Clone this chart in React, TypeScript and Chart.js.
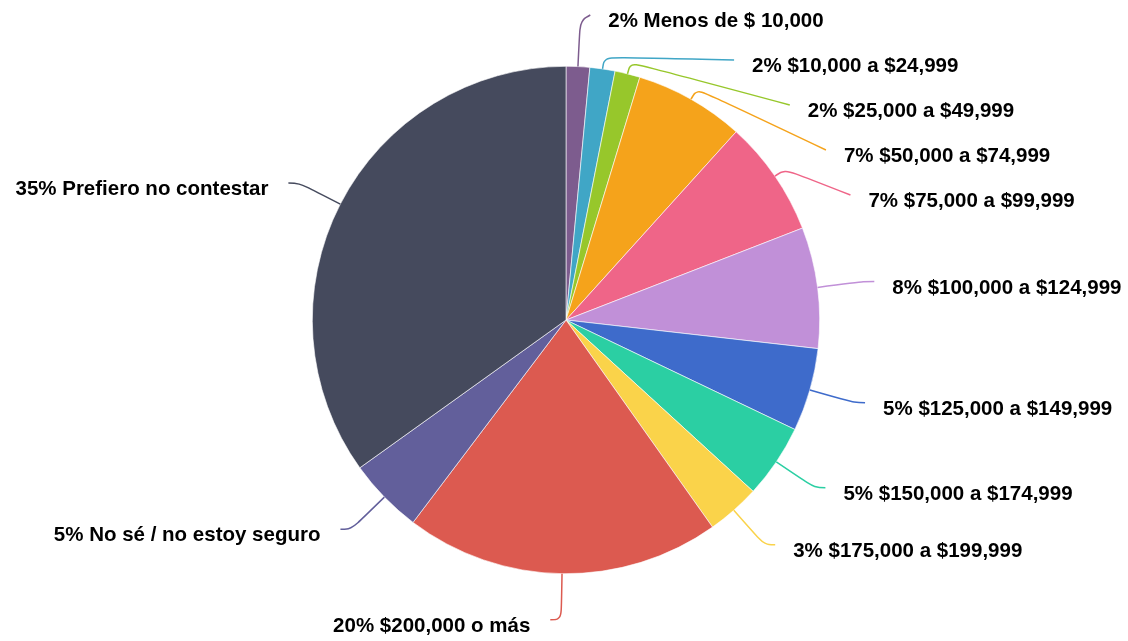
import React, { useEffect, useRef } from "react";
import { Chart, registerables } from "chart.js";

Chart.register(...registerables);

const categories = [
  "Menos de $ 10,000",
  "$10,000 a $24,999",
  "$25,000 a $49,999",
  "$50,000 a $74,999",
  "$75,000 a $99,999",
  "$100,000 a $124,999",
  "$125,000 a $149,999",
  "$150,000 a $174,999",
  "$175,000 a $199,999",
  "$200,000 o más",
  "No sé / no estoy seguro",
  "Prefiero no contestar",
];

const values = [1.5, 1.6, 1.6, 7.0, 7.4, 7.7, 5.3, 4.7, 3.4, 20.1, 4.8, 34.9];

const colors = [
  "#7d5c8e",
  "#40a6c6",
  "#97c72b",
  "#f5a31b",
  "#ef6588",
  "#c190d8",
  "#3e6bcb",
  "#2bcfa3",
  "#fad34a",
  "#dc5a50",
  "#625f9b",
  "#454a5d",
];

const total = values.reduce((a, b) => a + b, 0);
const labelTexts = values.map(
  (v, i) => `${Math.round((v * 100) / total + 1e-9)}% ${categories[i]}`
);

type Item = {
  i: number;
  dx: number;
  dy: number;
  side: number;
  ny: number;
  y: number;
};

function spread(list: Item[], gap: number, minY: number, maxY: number) {
  list.sort((a, b) => a.ny - b.ny);
  const clusters: { items: Item[]; top: number }[] = [];
  const fix = (c: { items: Item[]; top: number }) => {
    let s = 0;
    c.items.forEach((it, k) => (s += it.ny - k * gap));
    let top = s / c.items.length;
    top = Math.max(minY, Math.min(maxY - (c.items.length - 1) * gap, top));
    c.top = top;
  };
  for (const it of list) {
    const c = { items: [it], top: 0 };
    fix(c);
    clusters.push(c);
    while (clusters.length > 1) {
      const b = clusters[clusters.length - 1];
      const a = clusters[clusters.length - 2];
      if (a.top + a.items.length * gap > b.top) {
        a.items.push(...b.items);
        clusters.pop();
        fix(a);
      } else break;
    }
  }
  clusters.forEach((c) => c.items.forEach((it, k) => (it.y = c.top + k * gap)));
}

const outerLabels = {
  id: "outerLabels",
  afterDatasetsDraw(chart: any) {
    const meta = chart.getDatasetMeta(0);
    const arcs = meta.data;
    if (!arcs || !arcs.length) return;
    const ctx = chart.ctx as CanvasRenderingContext2D;
    const base = arcs[0].getProps(["x", "y", "outerRadius"], true);
    const cx = base.x, cy = base.y, r = base.outerRadius;
    const rA = r + 46;
    const len2 = 11;
    const stub = 12;
    const minY = 15;
    const maxY = chart.height - 19;
    const gap = 45;

    const items: Item[] = arcs.map((arc: any, i: number) => {
      const p = arc.getProps(["startAngle", "endAngle"], true);
      const mid = (p.startAngle + p.endAngle) / 2;
      const dx = Math.cos(mid);
      const dy = Math.sin(mid);
      return { i, dx, dy, side: dx < 0 ? -1 : 1, ny: cy + rA * dy, y: 0 };
    });

    [-1, 1].forEach((s) => spread(items.filter((it) => it.side === s), gap, minY, maxY));

    const rBs: Record<string, number> = {};
    items.forEach((it) => {
      const key = `${it.side}_${it.y < cy ? "t" : "b"}`;
      const d = Math.abs(it.y - cy);
      rBs[key] = Math.max(rBs[key] || 0, d);
    });

    ctx.save();
    ctx.font = "bold 20.5px 'Liberation Sans', Arial, Helvetica, sans-serif";
    ctx.textBaseline = "alphabetic";
    items.forEach((it) => {
      const key = `${it.side}_${it.y < cy ? "t" : "b"}`;
      const maxDy = rBs[key];
      const rB = maxDy > rA ? maxDy + 0.3 : rA;
      const ly = it.y - cy;
      const ex = cx + it.side * (rA * Math.sqrt(Math.max(0, 1 - (ly * ly) / (rB * rB))) + len2);
      const ey = it.y;

      let d = Math.abs(it.dy) > 1e-6 ? ly / it.dy : rA;
      if (!isFinite(d)) d = rA;
      d = Math.max(r + stub, Math.min(rA, d));
      const p0 = [cx + r * it.dx, cy + r * it.dy];
      const p1 = [cx + d * it.dx, cy + d * it.dy];
      const p2 = [ex, ey];

      const l1 = Math.hypot(p1[0] - p0[0], p1[1] - p0[1]);
      const l2 = Math.hypot(p2[0] - p1[0], p2[1] - p1[1]);
      ctx.beginPath();
      ctx.strokeStyle = colors[it.i];
      ctx.lineWidth = 1.5;
      ctx.moveTo(p0[0], p0[1]);
      if (l1 > 0 && l2 > 0) {
        const mv = Math.min(l1, l2) * 0.4;
        const m0 = [p1[0] + (p0[0] - p1[0]) * (mv / l1), p1[1] + (p0[1] - p1[1]) * (mv / l1)];
        const m2 = [p1[0] + (p2[0] - p1[0]) * (mv / l2), p1[1] + (p2[1] - p1[1]) * (mv / l2)];
        const m1 = [(m0[0] + m2[0]) / 2, (m0[1] + m2[1]) / 2];
        ctx.bezierCurveTo(m0[0], m0[1], m0[0], m0[1], m1[0], m1[1]);
        ctx.bezierCurveTo(m2[0], m2[1], m2[0], m2[1], p2[0], p2[1]);
      } else {
        ctx.lineTo(p1[0], p1[1]);
        ctx.lineTo(p2[0], p2[1]);
      }
      ctx.stroke();

      ctx.fillStyle = "#000";
      if (it.side > 0) {
        ctx.textAlign = "left";
        ctx.fillText(labelTexts[it.i], ex + 18, ey + 12);
      } else {
        ctx.textAlign = "right";
        ctx.fillText(labelTexts[it.i], ex - 20, ey + 12);
      }
    });
    ctx.restore();
  },
};

export default function App() {
  const ref = useRef<HTMLCanvasElement>(null);
  useEffect(() => {
    if (!ref.current) return;
    const chart = new Chart(ref.current, {
      type: "pie",
      data: {
        labels: categories,
        datasets: [
          {
            data: values,
            backgroundColor: colors,
            borderColor: "#ffffff",
            borderWidth: 0.6,
          },
        ],
      },
      options: {
        animation: false,
        responsive: true,
        maintainAspectRatio: false,
        layout: { padding: { left: 300, right: 296, top: 66, bottom: 67 } },
        plugins: {
          legend: { display: false },
          tooltip: { enabled: false },
        },
      },
      plugins: [outerLabels],
    });
    return () => chart.destroy();
  }, []);
  return (
    <div
      style={{
        position: "fixed",
        left: 0,
        top: 0,
        width: 1128,
        height: 641,
        background: "#ffffff",
      }}
    >
      <canvas ref={ref} />
    </div>
  );
}
